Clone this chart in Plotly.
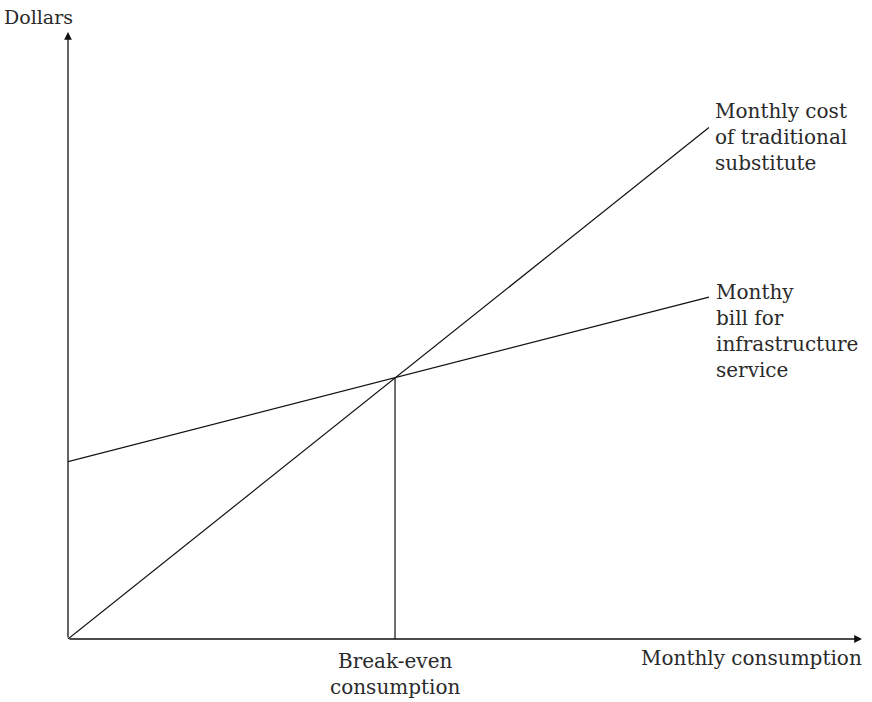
import plotly.graph_objects as go

# Data (quantity in units where break-even = 10, dollars where break-even = 100)
traditional_x = [0, 19.6]
traditional_y = [0, 196]
infrastructure_x = [0, 19.6]
infrastructure_y = [68, 131]
breakeven_x = 10
breakeven_y = 100
x_max = 24.28
y_max = 232.6

traditional_label = "Monthly cost<br>of traditional<br>substitute"
infrastructure_label = "Monthy<br>bill for<br>infrastructure<br>service"
breakeven_label = "Break-even<br>consumption"
x_title = "Monthly consumption"
y_title = "Dollars"

FONT = "DejaVu Serif"
FS = 20
INK = "#111111"

fig = go.Figure()
fig.add_trace(go.Scatter(x=traditional_x, y=traditional_y, mode="lines",
                         line=dict(color=INK, width=1.2), hoverinfo="skip"))
fig.add_trace(go.Scatter(x=infrastructure_x, y=infrastructure_y, mode="lines",
                         line=dict(color=INK, width=1.2), hoverinfo="skip"))
fig.add_trace(go.Scatter(x=[breakeven_x, breakeven_x], y=[0, breakeven_y], mode="lines",
                         line=dict(color=INK, width=1.2), hoverinfo="skip"))

# axes with arrows
fig.add_annotation(x=x_max, y=0, ax=0, ay=0, xref="x", yref="y", axref="x", ayref="y",
                   showarrow=True, arrowhead=2, arrowsize=1.2, arrowwidth=1.3,
                   arrowcolor=INK, text="")
fig.add_annotation(x=0, y=y_max, ax=0, ay=0, xref="x", yref="y", axref="x", ayref="y",
                   showarrow=True, arrowhead=2, arrowsize=1.2, arrowwidth=1.3,
                   arrowcolor=INK, text="")

font = dict(family=FONT, size=FS, color="#2a2a2a")
fig.add_annotation(x=traditional_x[-1], y=traditional_y[-1], xref="x", yref="y",
                   text=traditional_label, showarrow=False, xanchor="left", yanchor="top",
                   align="left", xshift=4, yshift=31, font=font)
fig.add_annotation(x=infrastructure_x[-1], y=infrastructure_y[-1], xref="x", yref="y",
                   text=infrastructure_label, showarrow=False, xanchor="left", yanchor="top",
                   align="left", xshift=5, yshift=19, font=font)
fig.add_annotation(x=breakeven_x, y=0, xref="x", yref="y",
                   text=breakeven_label, showarrow=False, xanchor="center", yanchor="top",
                   align="center", yshift=-8, font=font)
fig.add_annotation(x=x_max, y=0, xref="x", yref="y",
                   text=x_title, showarrow=False, xanchor="right", yanchor="top",
                   align="right", xshift=2, yshift=-5, font=font)
fig.add_annotation(x=0, y=y_max, xref="x", yref="y",
                   text=y_title, showarrow=False, xanchor="left", yanchor="bottom",
                   align="left", xshift=-66, yshift=2,
                   font=dict(family=FONT, size=19, color="#2a2a2a"))

fig.update_layout(
    width=872, height=702,
    margin=dict(l=68, r=10, t=32, b=63),
    plot_bgcolor="white", paper_bgcolor="white",
    showlegend=False,
    xaxis=dict(range=[0, x_max], visible=False, fixedrange=True),
    yaxis=dict(range=[0, y_max], visible=False, fixedrange=True),
)
# remove the browser's default 8px body margin so the figure fills the window
fig.write_html("out.html", config={"displayModeBar": False},
               post_script="document.body.style.margin='0';document.body.style.overflow='hidden';")
